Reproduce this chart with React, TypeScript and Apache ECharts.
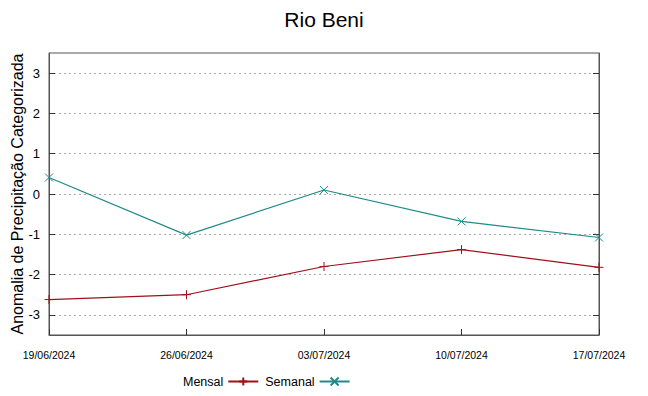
import React, { useEffect, useRef } from "react";
import * as echarts from "echarts";

const dates = ["19/06/2024", "26/06/2024", "03/07/2024", "10/07/2024", "17/07/2024"];
const mensal = [-2.62, -2.5, -1.8, -1.38, -1.82];
const semanal = [0.41, -1.02, 0.1, -0.68, -1.08];
const yTicks = [-3, -2, -1, 0, 1, 2, 3];

const RED = "#a0101a";
const TEAL = "#1f8a8a";
const PLUS = "path://M0,5L10,5M5,0L5,10";
const CROSS = "path://M0,0L10,10M10,0L0,10";

export default function App() {
  const ref = useRef<HTMLDivElement>(null);
  useEffect(() => {
    if (!ref.current) return;
    const chart = echarts.init(ref.current, undefined, { renderer: "svg" });
    const font = "'Liberation Sans', Arial, sans-serif";
    const yAxisBase = {
      type: "value" as const,
      min: -3.5,
      max: 3.5,
      splitNumber: 7,
      axisLine: { show: true, onZero: false, lineStyle: { color: "#555", width: 1 } },
      axisTick: {
        show: true,
        inside: true,
        length: 6,
        lineStyle: { color: "#333" },
        customValues: yTicks,
      },
    };
    chart.setOption({
      animation: false,
      textStyle: { fontFamily: font },
      title: {
        text: "Rio Beni",
        left: "center",
        top: 4,
        textStyle: { fontFamily: font, fontSize: 21, fontWeight: "normal", color: "#000" },
      },
      grid: {
        left: 49,
        right: 49,
        top: 53,
        bottom: 61,
        show: true,
        borderColor: "#555",
        borderWidth: 1,
        containLabel: false,
        outerBoundsMode: "none",
      },
      legend: {
        bottom: 3,
        left: 178,
        align: "right",
        itemWidth: 30,
        itemHeight: 10,
        itemGap: 6,
        textStyle: { fontFamily: font, fontSize: 12.5, color: "#000" },
        data: ["Mensal", "Semanal"],
      },
      xAxis: {
        type: "category",
        data: dates,
        boundaryGap: false,
        axisLine: { show: true, onZero: false, lineStyle: { color: "#555", width: 1 } },
        axisTick: { show: true, inside: true, length: 6, lineStyle: { color: "#333" } },
        axisLabel: { fontSize: 10.5, color: "#000", margin: 14, fontFamily: font },
        splitLine: { show: false },
      },
      yAxis: [
        {
          ...yAxisBase,
          position: "left",
          name: "Anomalia de Precipitação Categorizada",
          nameLocation: "middle",
          nameGap: 24,
          nameMoveOverlap: false,
          nameTextStyle: { fontSize: 16, color: "#000", fontFamily: font },
          axisLabel: {
            fontSize: 13,
            color: "#000",
            margin: 9,
            customValues: yTicks,
            formatter: (v: number) => String(v),
          },
          splitLine: {
            show: true,
            lineStyle: { color: "#aaa", type: [2, 3], width: 1 },
          },
        },
        {
          ...yAxisBase,
          position: "right",
          axisLabel: { show: false },
          splitLine: { show: false },
        },
      ],
      series: [
        {
          name: "Mensal",
          type: "line",
          data: mensal,
          symbol: PLUS,
          symbolSize: 9,
          showAllSymbol: true,
          lineStyle: { color: RED, width: 1.2 },
          itemStyle: { color: RED, borderColor: RED, borderWidth: 1 },
        },
        {
          name: "Semanal",
          type: "line",
          data: semanal,
          symbol: CROSS,
          symbolSize: 8,
          showAllSymbol: true,
          lineStyle: { color: TEAL, width: 1.2 },
          itemStyle: { color: TEAL, borderColor: TEAL, borderWidth: 1 },
        },
      ],
    });
    return () => chart.dispose();
  }, []);
  return <div ref={ref} style={{ width: 648, height: 396, position: "absolute", left: 0, top: 0 }} />;
}
